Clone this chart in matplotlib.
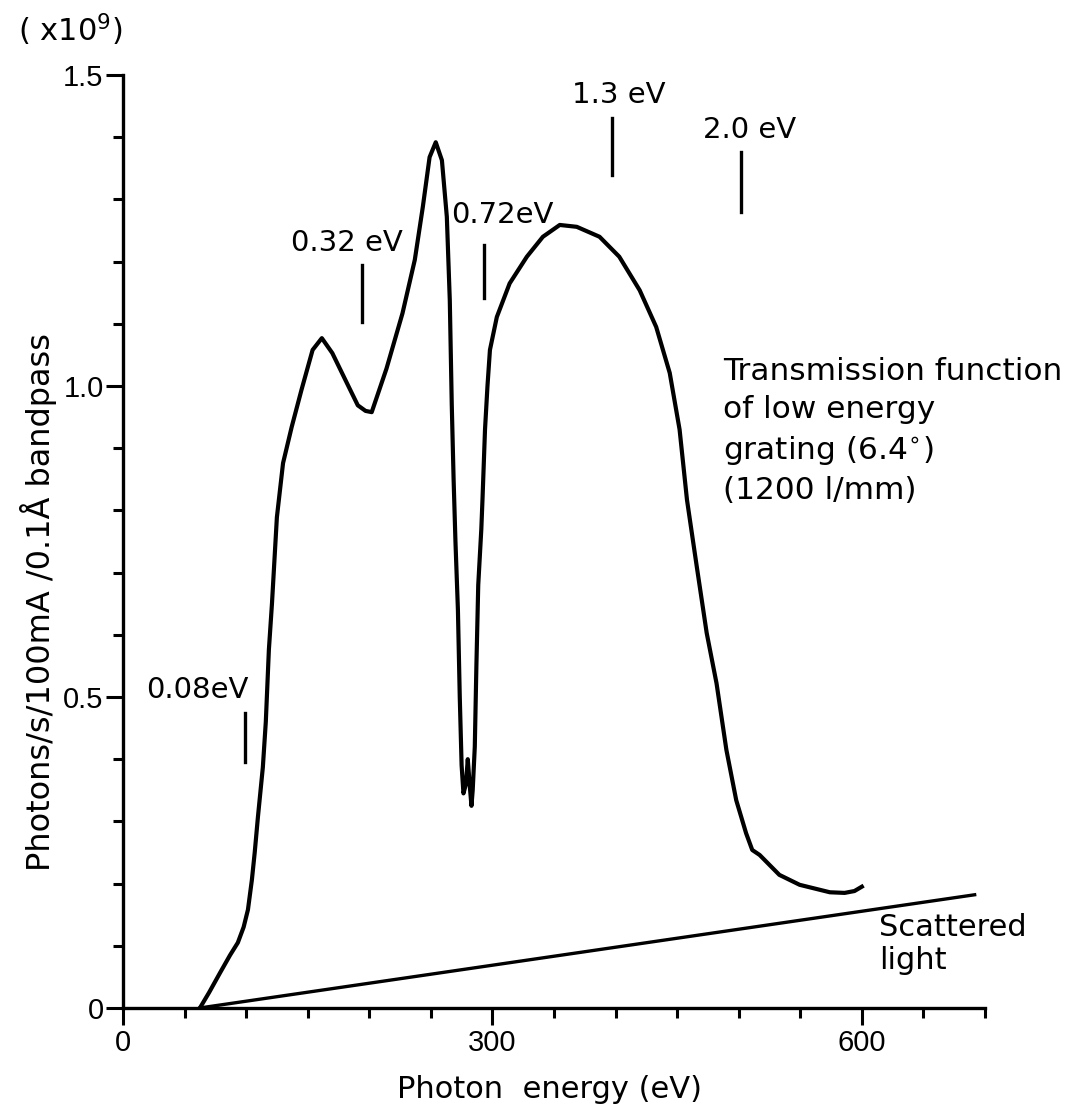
import matplotlib
matplotlib.use("Agg")
import matplotlib.pyplot as plt
from matplotlib.ticker import MultipleLocator

plt.rcParams['font.family'] = ['DejaVu Sans']
plt.rcParams['mathtext.fontset'] = 'dejavusans'

# transmission curve (eV, units of 1e9)
energy = [62.5, 70, 78.7, 87, 93.3, 98, 101.5, 104.7, 107, 109.6, 113.6, 116,
          118.5, 121, 125, 130, 137, 145, 154, 161.5, 170, 181.8, 190.7, 197,
          202, 214, 227, 237, 243.5, 249, 254, 259, 263, 265.4, 267, 268.5,
          270, 272, 273.5, 275, 276.5, 278.5, 280, 281.5, 283, 284, 285.7,
          287, 288.5, 291, 292, 294, 296, 298, 303.6, 314, 328, 341, 354.7,
          368.5, 387, 403, 419.6, 433, 444, 452, 458, 466, 474, 482, 490, 498,
          506, 511, 517, 533, 549.5, 574, 586, 594, 600]
flux = [0.0, 0.025, 0.056, 0.085, 0.105, 0.13, 0.158, 0.206, 0.25, 0.307,
        0.387, 0.46, 0.576, 0.65, 0.789, 0.876, 0.934, 0.994, 1.058, 1.077,
        1.053, 1.005, 0.969, 0.96, 0.958, 1.028, 1.117, 1.203, 1.288, 1.368,
        1.392, 1.363, 1.272, 1.138, 0.97, 0.85, 0.75, 0.64, 0.5, 0.39, 0.345,
        0.36, 0.40, 0.36, 0.325, 0.35, 0.42, 0.55, 0.68, 0.77, 0.82, 0.93,
        1.0, 1.058, 1.111, 1.165, 1.208, 1.24, 1.259, 1.256, 1.24, 1.208,
        1.154, 1.095, 1.021, 0.93, 0.817, 0.709, 0.603, 0.522, 0.415, 0.334,
        0.281, 0.254, 0.246, 0.214, 0.198, 0.186, 0.185, 0.188, 0.195]

# scattered light baseline
scatter_x = [62.5, 691.6]
scatter_y = [0.0, 0.182]

# resolution markers
mark_labels = ["0.08eV", "0.32 eV", "0.72eV", "1.3 eV", "2.0 eV"]
mark_x = [99, 194, 293, 397, 502]
mark_lo = [0.395, 1.103, 1.141, 1.339, 1.28]
mark_hi = [0.474, 1.195, 1.227, 1.431, 1.376]
label_x = [60, 182, 308, 403, 509]
label_y = [0.511, 1.23, 1.275, 1.468, 1.412]

fig = plt.figure(figsize=(10.89, 11.04), dpi=100)
ax = fig.add_axes([0.1129, 0.087, 0.7916, 0.845])

ax.plot(energy, flux, color='black', lw=3.0, solid_joinstyle='round')
ax.plot(scatter_x, scatter_y, color='black', lw=2.4)

for lab, x, lo, hi, tx, ty in zip(mark_labels, mark_x, mark_lo, mark_hi, label_x, label_y):
    ax.plot([x, x], [lo, hi], color='black', lw=2.4)
    ax.text(tx, ty, lab, fontsize=21, ha='center', va='center')

ax.text(487, 1.047, "Transmission function\nof low energy\ngrating (6.4$^{\\circ}$)\n(1200 l/mm)",
        fontsize=22.5, ha='left', va='top', linespacing=1.4)
ax.text(614, 0.152, "Scattered\nlight", fontsize=22, ha='left', va='top', linespacing=1.15)

ax.set_xlim(0, 700)
ax.set_ylim(0, 1.5)
ax.spines['top'].set_visible(False)
ax.spines['right'].set_visible(False)
ax.spines['left'].set_linewidth(2.4)
ax.spines['bottom'].set_linewidth(2.4)

ax.set_xticks([0, 300, 600])
ax.xaxis.set_minor_locator(MultipleLocator(50))
ax.set_yticks([0, 0.5, 1.0, 1.5])
ax.set_yticklabels(["0", "0.5", "1.0", "1.5"])
ax.yaxis.set_minor_locator(MultipleLocator(0.1))
ax.tick_params(axis='both', which='major', labelsize=21, width=2.2, length=12,
               direction='out', labelfontfamily='Liberation Sans')
ax.tick_params(axis='both', which='minor', width=2.2, length=7.5, direction='out')
ax.tick_params(axis='y', which='major', pad=2)

ax.set_xlabel("Photon  energy (eV)", fontsize=22)
ax.set_ylabel("Photons/s/100mA /0.1Å bandpass", fontsize=23)
ax.xaxis.set_label_coords(0.495, -0.072)
ax.yaxis.set_label_coords(-0.076, 0.435)

fig.text(18 / 1089, 1 - 30 / 1104, "( x10$^9$)", fontsize=22, ha='left', va='center')

fig.savefig("out.png", dpi=100)
